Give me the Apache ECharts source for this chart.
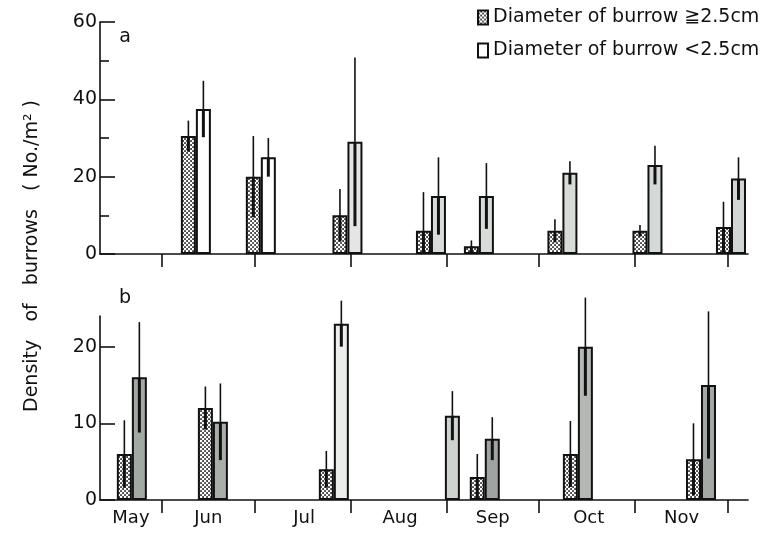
<!DOCTYPE html>
<html>
<head>
<meta charset="utf-8">
<script src="https://cdn.jsdelivr.net/npm/echarts@6/dist/echarts.min.js"></script>
<style>html,body{margin:0;padding:0;background:#fff;}#c{width:775px;height:533px;}</style>
</head>
<body>
<div id="c"></div>
<script>
// ---- data (x in days counted from 1 May) ----
const monthLabels = ['May', 'Jun', 'Jul', 'Aug', 'Sep', 'Oct', 'Nov'];
const monthLabelPos = [21, 46, 77, 108, 138, 169, 199];
const monthStarts = [31, 61, 92, 123, 153, 184, 214];
const legendNames = ['Diameter of burrow \u22672.5cm', 'Diameter of burrow <2.5cm'];

// panel a
const aDays = [42, 63, 91, 118, 133.5, 160.5, 188, 215];
const aLarge = [30.5, 20, 10, 6, 2, 6, 6, 7];
const aLargeErr = [4, 10.5, 6.8, 10, 1.5, 3, 1.5, 6.5];
const aSmall = [37.5, 25, 29, 15, 15, 21, 23, 19.5];
const aSmallErr = [7.3, 5, 21.8, 10, 8.5, 3, 5, 5.5];
const aTicks = [0, 20, 40, 60];

// panel b
const bDays = [21.3, 47.5, 86.6, 122.5, 135.4, 165.5, 205.3];
const bLarge = [6, 12, 4, null, 3, 6, 5.3];
const bLargeErr = [4.4, 2.8, 2.4, null, 3, 4.3, 4.7];
const bSmall = [16, 10.2, 23, 11, 8, 20, 15];
const bSmallErr = [7.2, 5, 3, 3.2, 2.8, 6.4, 9.6];
const bTicks = [0, 10, 20];

// styles (fill shades of the scanned "open" bars)
const aShades = ['#ffffff', '#ffffff', '#e4e6e4', '#d8dcd8', '#d8dcd8', '#d8dcd8', '#d6dad6', '#d2d6d2'];
const bShades = ['#a2a8a2', '#a8aea8', '#eceeec', '#cfd3cf', '#a0a4a0', '#b4b8b4', '#a4a8a4'];

const FONT = 'DejaVu Sans';
const INK = '#111';

function makeStipple() {
  const c = document.createElement('canvas');
  c.width = 4; c.height = 4;
  const ctx = c.getContext('2d');
  ctx.fillStyle = '#2a2a2a';
  ctx.fillRect(0, 0, 4, 4);
  ctx.fillStyle = '#ffffff';
  [[1, 1], [3, 3], [3, -1], [-1, 3], [5, 3], [3, 5], [5, -1], [-1, 5], [5, 5], [-1, -1]].forEach(function (p) {
    ctx.beginPath(); ctx.arc(p[0], p[1], 1.3, 0, Math.PI * 2); ctx.fill();
  });
  return { image: c, repeat: 'repeat' };
}
const stipple = makeStipple();

const chart = echarts.init(document.getElementById('c'), null, { renderer: 'canvas' });

function xAxisDef(gi, showLabels) {
  return {
    type: 'value', gridIndex: gi, min: 11, max: 220.5,
    splitLine: { show: false },
    axisLine: { show: true, onZero: false, lineStyle: { color: INK, width: 1.6 } },
    axisTick: { show: true, inside: false, length: 13, customValues: monthStarts, lineStyle: { color: INK, width: 1.6 } },
    axisLabel: {
      show: showLabels, customValues: monthLabelPos, margin: 9,
      fontFamily: FONT, fontSize: 18, color: INK,
      formatter: function (v) { const i = monthLabelPos.indexOf(v); return i >= 0 ? monthLabels[i] : ''; }
    }
  };
}

function yAxisDef(gi, max, interval, ticks, minor) {
  return {
    type: 'value', gridIndex: gi, min: 0, max: max, interval: interval,
    splitLine: { show: false },
    axisLine: { show: true, lineStyle: { color: INK, width: 1.6 } },
    axisTick: { show: true, inside: true, length: 15, customValues: ticks, lineStyle: { color: INK, width: 1.6 } },
    minorTick: { show: minor, splitNumber: 2, length: 9, lineStyle: { color: INK, width: 1.6 } },
    axisLabel: { customValues: ticks, margin: 3, fontFamily: FONT, fontSize: 19, color: INK }
  };
}

function pairSeries(gi, days, large, small, shades) {
  return [
    {
      name: legendNames[0], type: 'bar', xAxisIndex: gi, yAxisIndex: gi,
      barWidth: 15, barGap: '0%',
      itemStyle: { color: stipple, borderColor: INK, borderWidth: 2 },
      data: days.map(function (d, i) { return [d, large[i] == null ? '-' : large[i]]; }),
      z: 2
    },
    {
      name: legendNames[1], type: 'bar', xAxisIndex: gi, yAxisIndex: gi,
      barWidth: 15, barGap: '0%',
      itemStyle: { color: '#ffffff', borderColor: INK, borderWidth: 2 },
      data: days.map(function (d, i) { return { value: [d, small[i]], itemStyle: { color: shades[i] } }; }),
      z: 2
    }
  ];
}

function errRender(offset) {
  return function (params, api) {
    const x = api.value(0), v = api.value(1), e = api.value(2);
    const top = api.coord([x, v + e]);
    const mid = api.coord([x, v]);
    const bot = api.coord([x, Math.max(v - e, 0)]);
    const px = top[0] + offset;
    return {
      type: 'group', children: [
        { type: 'line', shape: { x1: px, y1: top[1], x2: px, y2: mid[1] }, style: { stroke: INK, lineWidth: 1.6 } },
        { type: 'line', shape: { x1: px, y1: mid[1], x2: px, y2: bot[1] }, style: { stroke: INK, lineWidth: 3 } }
      ]
    };
  };
}

function errSeries(gi, days, vals, errs, offset) {
  const data = [];
  days.forEach(function (d, i) { if (vals[i] != null && errs[i] != null) data.push([d, vals[i], errs[i]]); });
  return {
    type: 'custom', xAxisIndex: gi, yAxisIndex: gi, z: 5, silent: true,
    renderItem: errRender(offset), encode: { x: 0, y: 1 }, data: data
  };
}

const option = {
  animation: false,
  backgroundColor: '#ffffff',
  grid: [
    { left: 100, width: 648, top: 22, height: 232 },
    { left: 100, width: 648, top: 316, height: 184 }
  ],
  xAxis: [xAxisDef(0, false), xAxisDef(1, true)],
  yAxis: [yAxisDef(0, 60, 20, aTicks, true), yAxisDef(1, 24, 10, bTicks, false)],
  legend: {
    orient: 'vertical', left: 472, top: 3, itemGap: 14,
    icon: 'rect', itemWidth: 10, itemHeight: 14,
    textStyle: { fontFamily: FONT, fontSize: 19, color: INK },
    data: legendNames
  },
  graphic: [
    { type: 'text', x: 32, y: 256, rotation: Math.PI / 2,
      style: { text: 'Density   of   burrows   ( No./m\u00b2 )', font: '19px "DejaVu Sans"', fill: INK, textAlign: 'center', textVerticalAlign: 'middle' } },
    { type: 'text', x: 125, y: 37, style: { text: 'a', font: '19px "DejaVu Sans"', fill: INK, textAlign: 'center', textVerticalAlign: 'middle' } },
    { type: 'text', x: 125, y: 298, style: { text: 'b', font: '19px "DejaVu Sans"', fill: INK, textAlign: 'center', textVerticalAlign: 'middle' } }
  ],
  series: [].concat(
    pairSeries(0, aDays, aLarge, aSmall, aShades),
    pairSeries(1, bDays, bLarge, bSmall, bShades),
    [
      errSeries(0, aDays, aLarge, aLargeErr, -7.5),
      errSeries(0, aDays, aSmall, aSmallErr, 7.5),
      errSeries(1, bDays, bLarge, bLargeErr, -7.5),
      errSeries(1, bDays, bSmall, bSmallErr, 7.5)
    ]
  )
};
chart.setOption(option);
</script>
</body>
</html>
